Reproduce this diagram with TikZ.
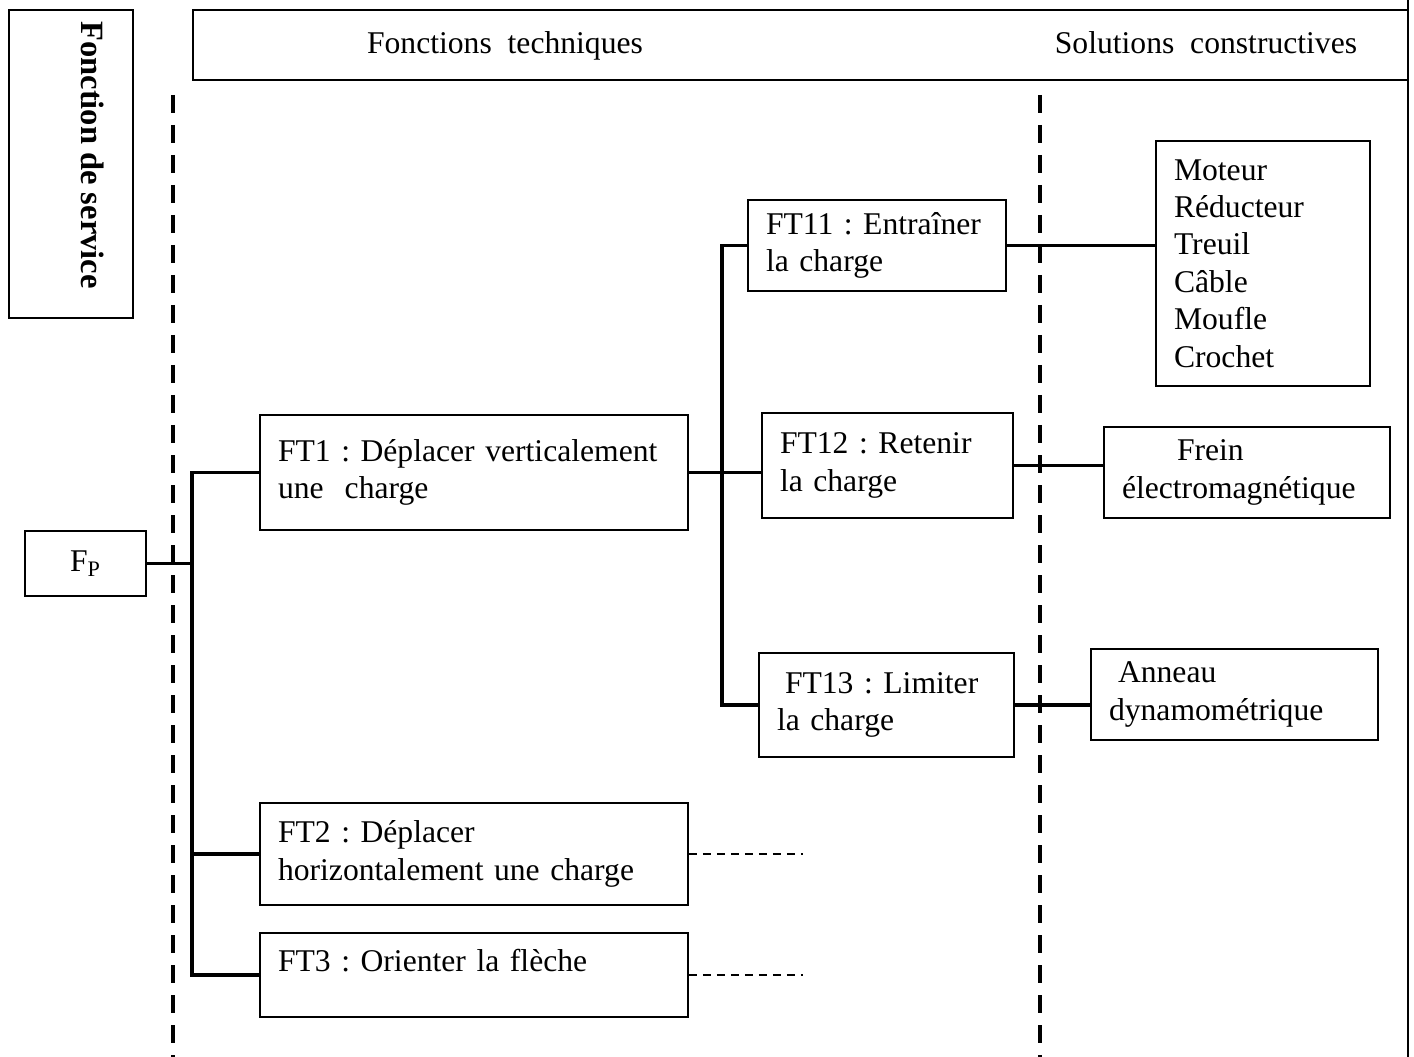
\documentclass[tikz,border=0pt]{standalone}
\usepackage{fontspec}
\setmainfont{Liberation Serif}
\usepackage{tikz}
\frenchspacing
\hyphenpenalty=10000
\exhyphenpenalty=10000

\begin{document}
\begin{tikzpicture}[
            box/.style={draw, line width=1.1pt, inner xsep=0.36cm, inner ysep=0pt, align=left},
            link/.style={line width=2pt},
            axe/.style={line width=2.4pt, dash pattern=on 0.36cm off 0.24cm},
            suite/.style={line width=1pt, dash pattern=on 0.16cm off 0.12cm},
            font=\fontsize{18}{21.3}\selectfont]
				\useasboundingbox (0,0) rectangle (28.28,-21.14);

				\node[box, minimum width=2.48cm, minimum height=6.16cm] (serv) at (1.42,-3.28) {};
				\node[rotate=-90, font=\fontsize{18.5}{21.3}\selectfont\bfseries] (servtxt) at (1.86,-3.10) {Fonction de service};
				\node[box, minimum width=24.3cm, minimum height=1.4cm] (head) at (16.01,-0.9) {};
				\node (tech) at (10.1,-0.92) {Fonctions~ techniques};
				\node (solc) at (24.12,-0.86) {Solutions~ constructives};

				\draw[line width=1.1pt] (28.16,0) -- (28.16,-21.14);
				\draw[axe] (3.46,-1.9) -- (3.46,-21.14);
				\draw[axe] (20.8,-1.9) -- (20.8,-21.14);

				\node[box, minimum width=2.42cm, minimum height=1.3cm] (fp) at (1.71,-11.27) {F\textsubscript{P}};

				\node[box, text width=7.84cm, minimum height=2.3cm] (ft1) at (9.48,-9.45) {FT1 : Déplacer verticalement\\une~ charge};
				\node[box, text width=7.84cm, minimum height=2.04cm] (ft2) at (9.48,-17.08) {FT2 : Déplacer\\horizontalement une charge};
				\node[box, text width=7.84cm, minimum height=1.68cm, text depth=0.6cm] (ft3) at (9.48,-19.5) {FT3 : Orienter la flèche};

				\node[box, text width=4.44cm, minimum height=1.82cm] (ft11) at (17.54,-4.91) {FT11 : Entraîner\\la charge};
				\node[box, text width=4.3cm, minimum height=2.1cm] (ft12) at (17.75,-9.31) {FT12 : Retenir\\la charge};
				\node[box, text width=4.38cm, minimum height=2.08cm] (ft13) at (17.73,-14.1) {\hspace*{0.16cm}FT13 : Limiter\\la charge};

				\node[box, text width=3.56cm, minimum height=4.9cm] (sol11) at (25.26,-5.27) {Moteur\\Réducteur\\Treuil\\Câble\\Moufle\\Crochet};
				\node[box, text width=5cm, minimum height=1.82cm] (sol12) at (24.94,-9.45) {\hspace*{1.1cm}Frein\\électromagnétique};
				\node[box, text width=5.02cm, minimum height=1.82cm] (sol13) at (24.69,-13.89) {\hspace*{0.18cm}Anneau\\dynamométrique};

				\coordinate (tr) at (3.84,0);
				\coordinate (st) at (14.44,0);

				\draw[link] (fp.east) -- (fp.east -| tr);
				\draw[link] (ft1.west) -| (tr |- ft3.west) -- (ft3.west);
				\draw[link] (ft2.west) -- (ft2.west -| tr);
				\draw[link] (ft1.east) -- (ft12.west |- ft1.east);
				\draw[link] (ft11.west) -| (st |- ft13.west) -- (ft13.west);
				\draw[link] (ft11.east) -- (sol11.west |- ft11.east);
				\draw[link] (ft12.east) -- (sol12.west |- ft12.east);
				\draw[link] (ft13.east) -- (sol13.west |- ft13.east);

				\draw[suite] (ft2.east) -- ++(2.28,0);
				\draw[suite] (ft3.east) -- ++(2.28,0);
 		\end{tikzpicture}
\end{document}
